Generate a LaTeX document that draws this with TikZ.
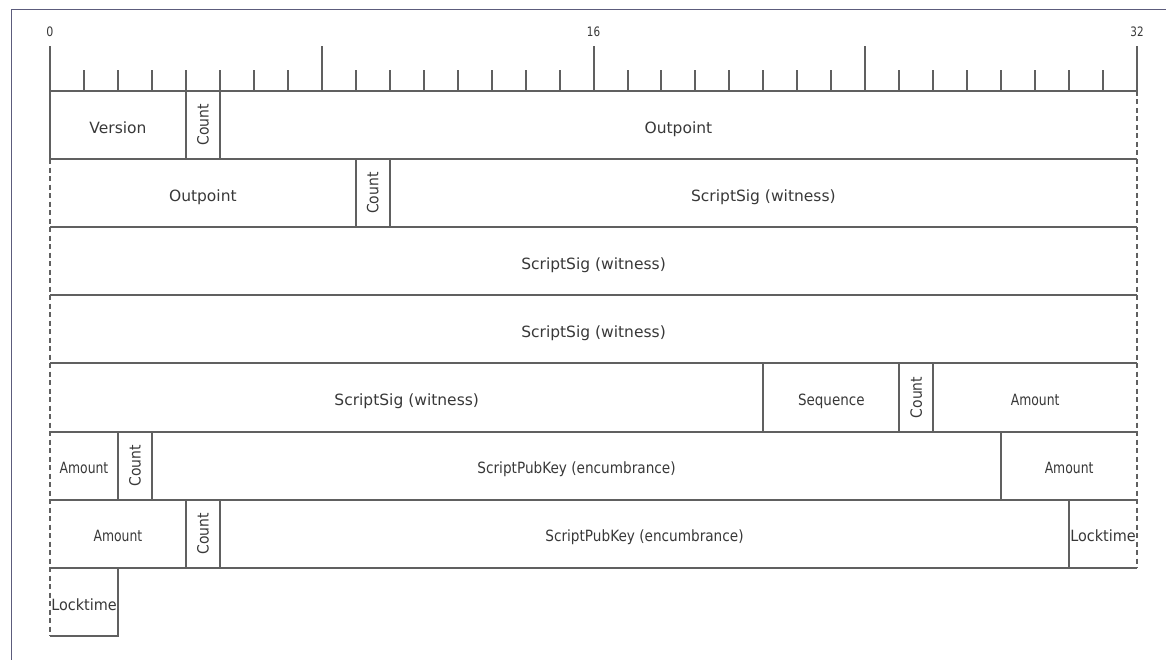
\documentclass[tikz,border=0pt]{standalone}
\usepackage{fontspec}
\setmainfont{DejaVu Sans}
\usepackage{graphicx}
\definecolor{ln}{HTML}{606060}
\definecolor{tx}{HTML}{383838}
\definecolor{frm}{HTML}{5C5C7C}
\newcommand\xs[2]{\scalebox{#1}[1]{#2}}
\tikzset{
  field/.style={inner sep=0pt, text=tx, font=\fontsize{15.5}{18}\selectfont, text height=11.5pt, text depth=3pt, yshift=-4pt},
  cnt/.style={inner sep=0pt, text=tx, font=\fontsize{15.5}{18}\selectfont, rotate=90},
  ticklbl/.style={inner sep=0pt, text=tx, font=\fontsize{13}{15}\selectfont},
  sep/.style={draw=ln, line width=2pt},
  cont/.style={draw=ln, line width=1.6pt, dash pattern=on 5pt off 3.5pt},
  tick/.style={draw=ln, line width=2pt}
}
\begin{document}
\begin{tikzpicture}[x=33.97pt, y=-1pt]
\useasboundingbox (0pt,0pt) rectangle (1166pt,-660pt);
\draw[frm, line width=1pt] (1166pt,-9.5pt) -- (11.5pt,-9.5pt) -- (11.5pt,-660pt);
\begin{scope}[xshift=50pt]
  % ruler
  \foreach \b in {1,...,7,9,10,...,15,17,18,...,23,25,26,...,31} \draw[tick] (\b,70.5) -- (\b,91);
  \foreach \b in {0,8,16,24,32} \draw[tick] (\b,46.5) -- (\b,91);
  \node[ticklbl] (t0) at (0,32) {\xs{0.85}{0}};
  \node[ticklbl] (t16) at (16,32) {\xs{0.8}{16}};
  \node[ticklbl] (t32) at (32,32) {\xs{0.8}{32}};
  % horizontal row lines
  \foreach \y in {91,159.1,227.2,295.3,363.4,431.5,499.6,567.7} \draw[sep] (0,\y) -- (32,\y);
  % outer edges
  \draw[sep] (0,91) -- (0,159.1);
  \draw[cont] (32,91) -- (32,567.7);
  \draw[cont] (0,159.1) -- (0,635.8);
  \draw[sep] (0,635.8) -- (2,635.8) -- (2,567.7);
  % inner separators
  \foreach \b in {4,5} \draw[sep] (\b,91) -- (\b,159.1);
  \foreach \b in {9,10} \draw[sep] (\b,159.1) -- (\b,227.2);
  \foreach \b in {21,25,26} \draw[sep] (\b,363.4) -- (\b,431.5);
  \foreach \b in {2,3,28} \draw[sep] (\b,431.5) -- (\b,499.6);
  \foreach \b in {4,5,30} \draw[sep] (\b,499.6) -- (\b,567.7);
  % row 1
  \node[field] (ver) at (2,125) {Version};
  \node[cnt] (c1) at (4.5,125) {\xs{0.9}{Count}};
  \node[field] (op1) at (18.5,125) {Outpoint};
  % row 2
  \node[field] (op2) at (4.5,193.2) {Outpoint};
  \node[cnt] (c2) at (9.5,193.2) {\xs{0.9}{Count}};
  \node[field] (ss2) at (21,193.2) {ScriptSig (witness)};
  % rows 3,4
  \node[field] (ss3) at (16,261.3) {ScriptSig (witness)};
  \node[field] (ss4) at (16,329.4) {ScriptSig (witness)};
  % row 5
  \node[field] (ss5) at (10.5,397.5) {ScriptSig (witness)};
  \node[field] (seq) at (23,397.5) {\xs{0.87}{Sequence}};
  \node[cnt] (c5) at (25.5,397.5) {\xs{0.9}{Count}};
  \node[field] (am5) at (29,397.5) {\xs{0.8}{Amount}};
  % row 6
  \node[field] (am6) at (1,465.6) {\xs{0.8}{Amount}};
  \node[cnt] (c6) at (2.5,465.6) {\xs{0.9}{Count}};
  \node[field] (pk6) at (15.5,465.6) {\xs{0.88}{ScriptPubKey (encumbrance)}};
  \node[field] (am6r) at (30,465.6) {\xs{0.8}{Amount}};
  % row 7
  \node[field] (am7) at (2,533.7) {\xs{0.8}{Amount}};
  \node[cnt] (c7) at (4.5,533.7) {\xs{0.9}{Count}};
  \node[field] (pk7) at (17.5,533.7) {\xs{0.88}{ScriptPubKey (encumbrance)}};
  \node[field] (lt7) at (31,533.7) {\xs{0.93}{Locktime}};
  % row 8
  \node[field] (lt8) at (1,601.8) {\xs{0.93}{Locktime}};
\end{scope}
\end{tikzpicture}
\end{document}
